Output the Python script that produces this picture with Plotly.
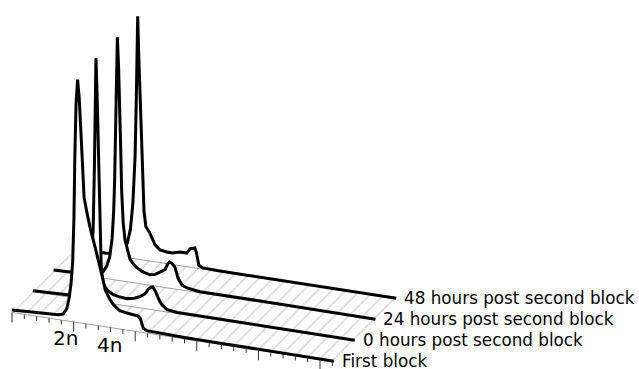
import plotly.graph_objects as go

# ---------------- data ----------------
series_names = [
    "First block",
    "0 hours post second block",
    "24 hours post second block",
    "48 hours post second block",
]

# DNA content channel (v) and counts normalised to the G1 peak (=100)
first_block_v = [0, 40, 80, 120, 150, 166, 178, 186, 192, 197, 201, 204, 208, 213, 218, 224, 229, 234, 243, 255,
                 270, 286, 296, 303, 318, 330, 350, 373, 395, 410, 417, 422, 426, 438, 480, 560, 640, 720, 800,
                 880, 960, 1045]
first_block_c = [1.0, 1.2, 1.4, 1.7, 2.0, 2.6, 5.0, 10, 16, 25, 42, 68, 90, 100, 93, 78, 62, 52, 46, 39,
                 32, 24.5, 19, 15, 11.5, 9.5, 7.5, 7.0, 6.8, 6.5, 5.5, 3.5, 1.8, 1.0, 0.8, 0.6, 0.5, 0.5, 0.4,
                 0.3, 0.3, 0.2]

h0_v = [0, 50, 100, 140, 165, 180, 190, 196, 200, 203, 205, 209, 212, 216, 219, 222, 226, 232, 241, 260,
        283, 306, 330, 350, 365, 374, 383, 390, 397, 403, 412, 420, 436, 470, 560, 650, 740, 830, 920, 1045]
h0_c = [0.3, 0.5, 0.6, 1.0, 2.0, 4.5, 13, 30, 55, 82, 100, 84, 66, 45, 28, 15, 9, 7, 5.3, 3.8,
        3.2, 3.0, 3.6, 4.8, 6.2, 8.0, 9.2, 9.4, 8.0, 6.2, 4.0, 2.6, 1.0, 0.5, 0.5, 0.4, 0.4, 0.3, 0.3, 0.2]

h24_v = [0, 50, 100, 140, 160, 172, 182, 190, 195, 198, 200, 203, 207, 211, 215, 218, 221, 226, 232, 238,
         248, 260, 271, 290, 313, 330, 346, 362, 371, 377, 384, 394, 404, 417, 433, 475, 560, 650, 740, 830,
         920, 1045]
h24_c = [0.2, 0.4, 0.6, 1.2, 2.5, 5, 9, 17, 28, 40, 56, 78, 100, 88, 73, 54, 37, 24, 17, 14,
         9.5, 7.5, 6.3, 5.0, 4.3, 4.8, 6.1, 7.4, 10.0, 10.8, 10.4, 9.0, 4.7, 2.1, 1.2, 0.5, 0.5, 0.4, 0.4, 0.3,
         0.3, 0.2]

h48_v = [0, 50, 100, 140, 160, 172, 182, 190, 197, 201, 205.5, 209, 214, 218, 222, 226, 232, 245, 262, 278,
         300, 317, 343, 365, 375, 383, 391, 396, 400, 404, 417, 463, 560, 650, 740, 830, 920, 1045]
h48_c = [0.2, 0.3, 0.5, 1.2, 3, 6, 12, 23, 42, 66, 100, 84, 64, 48, 31, 20, 14, 11.5, 7, 5.2,
         4.8, 4.7, 5.6, 5.6, 7.5, 8.0, 8.2, 6.5, 3.0, 1.3, 0.5, 0.3, 0.3, 0.3, 0.3, 0.3, 0.2, 0.2]

series_v = [first_block_v, h0_v, h24_v, h48_v]
series_c = [first_block_c, h0_c, h24_c, h48_c]

V_MAX = 1045
major_tick_v = [0, 200, 400, 600, 800, 1000]
minor_tick_v = [40, 80, 120, 160, 240, 280, 320, 360, 440, 480, 520, 560, 640, 680, 720, 760,
                840, 880, 920, 960, 1040]
tick_labels = ["2n", "4n"]
tick_label_v = [207, 350]

# ---------------- oblique projection (layout / style) ----------------
OX, OY = 12.0, 312.5          # screen position of v=0 on the front series
AXX, AXY = 0.308, 0.0471      # screen shift per DNA channel unit
DX, DY = 20.8, -21.0          # screen shift per series (depth)
HS = 2.43                     # screen pixels per count unit
FONT = "DejaVu Sans"


def proj(v, k, c=0.0):
    return OX + AXX * v + DX * k, OY + AXY * v + DY * k - HS * c


fig = go.Figure()

# hatched floor
fx, fy = [], []
for v, k in [(0, 0), (V_MAX, 0), (V_MAX, 3), (0, 3), (0, 0)]:
    x, y = proj(v, k)
    fx.append(x)
    fy.append(y)
fig.add_trace(go.Scatter(
    x=fx, y=fy, mode="lines", fill="toself", line=dict(width=0, color="rgba(0,0,0,0)"),
    fillcolor="white",
    fillpattern=dict(shape="/", size=10, solidity=0.17, fgcolor="#b4b4b4", bgcolor="white"),
    hoverinfo="skip"))

# series, drawn back to front
for k in [3, 2, 1, 0]:
    vs, cs = series_v[k], series_c[k]
    px, py = [], []
    for v, c in zip(vs, cs):
        x, y = proj(v, k, c)
        px.append(x)
        py.append(y)
    bx0, by0 = proj(vs[0], k)
    bx1, by1 = proj(vs[-1], k)
    # white occluding area
    fig.add_trace(go.Scatter(
        x=px + [bx1, bx0, px[0]], y=py + [by1, by0, py[0]], mode="lines", fill="toself",
        fillcolor="white", line=dict(width=0, color="rgba(0,0,0,0)"), hoverinfo="skip"))
    # grey baseline
    fig.add_trace(go.Scatter(
        x=[bx0, bx1], y=[by0, by1], mode="lines", line=dict(color="#a0a0a0", width=1), hoverinfo="skip"))
    # histogram line
    fig.add_trace(go.Scatter(
        x=px, y=py, mode="lines", line=dict(color="black", width=3), hoverinfo="skip"))

# ticks on the front axis
tx, ty = [], []
for v in major_tick_v:
    x, y = proj(v, 0)
    tx += [x, x, None]
    ty += [y, y + 10, None]
for v in minor_tick_v:
    x, y = proj(v, 0)
    tx += [x, x, None]
    ty += [y, y + 4.5, None]
fig.add_trace(go.Scatter(x=tx, y=ty, mode="lines", line=dict(color="#333333", width=1), hoverinfo="skip"))

annotations = []
# tick labels
for lab, v in zip(tick_labels, tick_label_v):
    x, y = proj(v, 0)
    annotations.append(dict(x=x - 10, y=y + 16, xref="x", yref="y", text=lab, showarrow=False,
                            xanchor="center", yanchor="middle",
                            font=dict(family=FONT, size=20, color="black")))
# series labels
for k, name in enumerate(series_names):
    x, y = proj(V_MAX, k)
    annotations.append(dict(x=x + 6, y=y - 1, xref="x", yref="y", text=name, showarrow=False,
                            xanchor="left", yanchor="middle",
                            font=dict(family=FONT, size=16.8, color="black")))

fig.update_layout(
    width=639, height=369, margin=dict(l=0, r=0, t=0, b=0),
    paper_bgcolor="white", plot_bgcolor="white", showlegend=False,
    xaxis=dict(range=[0, 639], visible=False, fixedrange=True),
    yaxis=dict(range=[369, 0], visible=False, fixedrange=True),
    annotations=annotations,
)

fig.write_html("out.html")
